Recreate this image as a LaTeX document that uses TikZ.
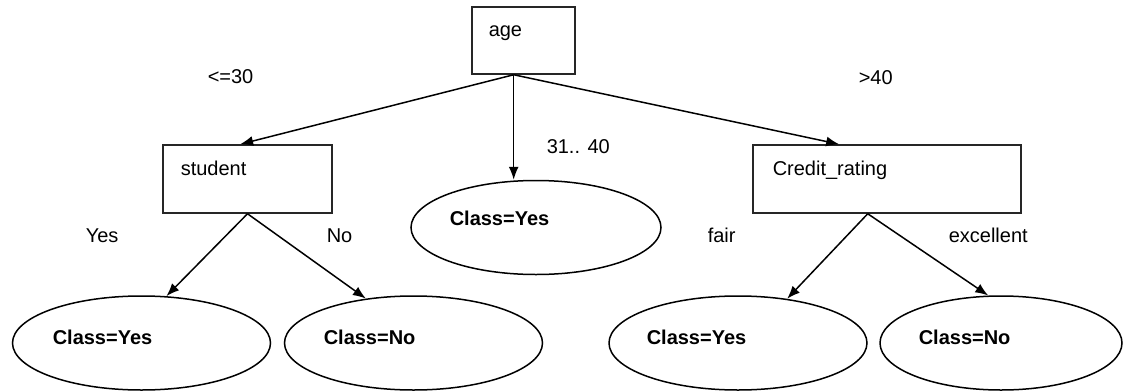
\documentclass[tikz,border=0pt]{standalone}
\usepackage{fontspec}
\setmainfont{Liberation Sans}
\usetikzlibrary{arrows.meta,shapes.geometric}

\tikzset{
	treepicture/.style = {
		x = 0.5pt,
		y = -0.5pt,
		line width = 0.75pt,
		arrow/.style = {
			draw,
			-{Latex[length=6.5pt, width=5pt]},
		}
	},
	testnode/.style = {
		rectangle,
		draw = black!85,
		inner sep = 0pt,
		minimum height = 34pt
	},
	leafnode/.style = {
		ellipse,
		draw = black,
		inner sep = 0pt,
		minimum width = 129pt,
		minimum height = 47pt
	},
	nodetext/.style = {
		anchor = base west,
		inner sep = 0pt
	},
	leaftext/.style = {
		nodetext,
		font = \bfseries
	}
}

\begin{document}
\begin{tikzpicture}[treepicture]
	\useasboundingbox (0,0) rectangle (1124,391);

	\node[testnode, minimum width = 51.5pt, minimum height = 33.5pt] (age) at (523.5,40.5) {};
	\node[testnode, minimum width = 84.5pt] (student) at (247.5,179) {};
	\node[testnode, minimum width = 134pt] (credit) at (887,179) {};

	\node[leafnode, minimum width = 125pt] (mid) at (536,227.5) {};
	\node[leafnode] (yesL) at (141.5,343) {};
	\node[leafnode] (noL) at (413.5,343) {};
	\node[leafnode] (yesR) at (738,343) {};
	\node[leafnode, minimum width = 121pt] (noR) at (1001,343) {};

	\node[nodetext] (agetext) at (488,36) {age};
	\node[nodetext] (studenttext) at (180,175) {student};
	\node[nodetext] (credittext) at (772,175) {Credit\_rating};
	\node[leaftext] (midtext) at (449,225) {Class=Yes};
	\node[leaftext] (yesLtext) at (52,344) {Class=Yes};
	\node[leaftext] (noLtext) at (323,344) {Class=No};
	\node[leaftext] (yesRtext) at (646,344) {Class=Yes};
	\node[leaftext] (noRtext) at (918,344) {Class=No};

	\node[nodetext] (young) at (207,83) {<=30};
	\node[nodetext] (middle) at (546,153) {31.. 40};
	\node[nodetext] (old) at (858,84) {>40};
	\node[nodetext] (yes) at (85,242) {Yes};
	\node[nodetext] (no) at (326,242) {No};
	\node[nodetext] (fair) at (707,242) {fair};
	\node[nodetext] (excellent) at (948,242) {excellent};

	\begin{scope}[every path/.style = arrow]
		\path (age.254) -- (student.102);
		\path (age.254) -- (age.254 |- mid.north);
		\path (age.254) -- (credit.144);

		\path (student.south) -- (yesL.62);
		\path (student.south) -- (noL.137);

		\path (credit.241) -- (yesR.42);
		\path (credit.241) -- (noR.105);
	\end{scope}
\end{tikzpicture}
\end{document}
